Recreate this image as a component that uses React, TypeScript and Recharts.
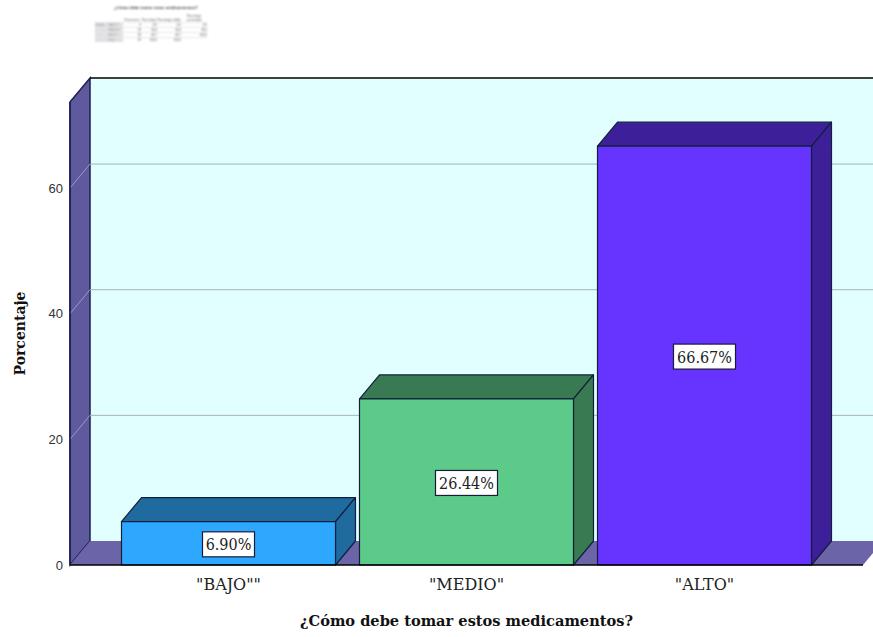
import React from 'react';
import {
  BarChart,
  Bar,
  XAxis,
  YAxis,
  CartesianGrid,
  LabelList,
  usePlotArea,
} from 'recharts';

const categories = ['"BAJO""', '"MEDIO"', '"ALTO"'];
const percentages = [6.9, 26.44, 66.67];
const yTicks = [0, 20, 40, 60];
const gridValues = [20, 40, 60];

const frontColors = ['#2EA8FF', '#5CCB8A', '#6633FF'];
const shadeColors = ['#1F6A9E', '#3A7A52', '#3D1F99'];

const tableTitle = '¿Cómo debe tomar estos medicamentos?';
const tableHeaders = ['', '', 'Frecuencia', 'Porcentaje', 'Porcentaje válido', 'Porcentaje acumulado'];
const tableRows = [
  ['Válidos', '"BAJO""', '6', '6,9', '6,9', '6,9'],
  ['', '"MEDIO"', '23', '26,4', '26,4', '33,3'],
  ['', '"ALTO"', '58', '66,7', '66,7', '100,0'],
  ['', 'Total', '87', '100,0', '100,0', ''],
];
const tableColumns = [13, 15, 18, 16, 24, 26];

const chartData = categories.map((name, i) => ({ name, value: percentages[i] }));

// depth of the extruded look, in pixels
const DX = 20;
const DY = 24;
const SERIF = '"DejaVu Serif", serif';
const SANS = '"Liberation Sans", sans-serif';

// side wall, back wall and floor behind the bars
const Walls = () => {
  const area = usePlotArea();
  if (!area) return null;
  const { x, y, width, height } = area;
  const right = x + width;
  const bottom = y + height;
  return (
    <g>
      <rect x={x + DX} y={y - DY} width={width} height={height} fill="#E1FFFF" />
      <polygon
        points={`${x},${y} ${x + DX},${y - DY} ${x + DX},${bottom - DY} ${x},${bottom}`}
        fill="#5F5A9E"
        stroke="#1B2050"
        strokeWidth={1.5}
      />
      <polygon
        points={`${x},${bottom} ${x + DX},${bottom - DY} ${right + DX},${bottom - DY} ${right},${bottom}`}
        fill="#6C64A8"
      />
      <line x1={x + DX} y1={y - DY} x2={right + DX} y2={y - DY} stroke="#000" strokeWidth={1.5} />
    </g>
  );
};

// grid lines bend around the corner from the side wall onto the back wall
const GridLine = (props: any) => {
  const { x1, y1, x2, y2 } = props;
  return (
    <g key={`grid-${y1}`}>
      <line x1={x1} y1={y1} x2={x1 + DX} y2={y2 - DY} stroke="#9C98C6" />
      <line x1={x1 + DX} y1={y1 - DY} x2={x2 + DX} y2={y2 - DY} stroke="#A9B3B3" />
    </g>
  );
};

const Box3D = (props: any) => {
  const { x, y, width, height, index } = props;
  const shade = shadeColors[index];
  const line = '#10203A';
  return (
    <g stroke={line} strokeWidth={1.2} strokeLinejoin="round">
      <polygon
        points={`${x},${y} ${x + DX},${y - DY} ${x + width + DX},${y - DY} ${x + width},${y}`}
        fill={shade}
      />
      <polygon
        points={`${x + width},${y} ${x + width + DX},${y - DY} ${x + width + DX},${y + height - DY} ${x + width},${y + height}`}
        fill={shade}
      />
      <rect x={x} y={y} width={width} height={height} fill={frontColors[index]} />
    </g>
  );
};

const ValueTag = (props: any) => {
  const { x, y, width, height, value } = props;
  const text = `${Number(value).toFixed(2)}%`;
  const boxW = text.length * 10 + 2;
  const boxH = 25;
  const cx = x + width / 2;
  const cy = y + height / 2 + 1;
  return (
    <g>
      <rect
        x={cx - boxW / 2}
        y={cy - boxH / 2}
        width={boxW}
        height={boxH}
        fill="#fff"
        stroke="#1A1A3A"
        strokeWidth={1.2}
      />
      <text
        x={cx}
        y={cy + 6}
        textAnchor="middle"
        fontFamily={'"DejaVu Serif Condensed", "DejaVu Serif", serif'}
        fontSize={16}
        fill="#222"
      >
        {text}
      </text>
    </g>
  );
};

// the small frequency table sitting above the chart
const MiniTable = () => (
  <div
    style={{
      position: 'absolute',
      left: 95,
      top: 5,
      width: 112,
      fontFamily: SANS,
      color: '#555',
      filter: 'blur(0.8px)',
    }}
  >
    <div style={{ fontSize: 4.2, fontWeight: 700, color: '#333', textAlign: 'center', height: 8, paddingLeft: 10, whiteSpace: 'nowrap' }}>
      {tableTitle}
    </div>
    <table style={{ borderCollapse: 'collapse', tableLayout: 'fixed', width: 112, fontSize: 3 }}>
      <colgroup>
        {tableColumns.map((w, i) => (
          <col key={i} style={{ width: w }} />
        ))}
      </colgroup>
      <tbody>
        <tr style={{ height: 9 }}>
          {tableHeaders.map((h, i) => (
            <td key={i} style={{ padding: 0, textAlign: 'center', verticalAlign: 'bottom', overflow: 'hidden' }}>
              {h}
            </td>
          ))}
        </tr>
        {tableRows.map((row, r) => (
          <tr key={r} style={{ height: 4.5 }}>
            {row.map((c, i) => (
              <td
                key={i}
                style={{
                  padding: 0,
                  lineHeight: '4px',
                  textAlign: i < 2 ? 'left' : 'right',
                  color: i < 2 ? '#999' : '#555',
                  background: i < 2 ? '#E0E0E4' : '#fff',
                  borderTop: '1px solid #E8E8E8',
                }}
              >
                {c}
              </td>
            ))}
          </tr>
        ))}
      </tbody>
    </table>
  </div>
);

export default function App() {
  return (
    <div
      style={{
        position: 'absolute',
        left: 0,
        top: 0,
        width: 873,
        height: 637,
        overflow: 'hidden',
        background: '#fff',
      }}
    >
      <MiniTable />
      <BarChart
        width={873}
        height={637}
        data={chartData}
        barSize={214}
        margin={{ top: 102, right: 10, bottom: 0, left: 0 }}
      >
        <Walls />
        <CartesianGrid
          vertical={false}
          horizontal={(p: any) => <GridLine {...p} />}
          horizontalValues={gridValues}
          {...({ zIndex: 1 } as any)}
        />
        <XAxis
          dataKey="name"
          height={72}
          padding={{ left: 39.5, right: 39.5 }}
          axisLine={{ stroke: '#000', strokeWidth: 1.5 }}
          tickLine={false}
          tickMargin={8}
          tick={{ fontFamily: SERIF, fontSize: 16, fill: '#222' }}
          label={{
            value: '¿Cómo debe tomar estos medicamentos?',
            position: 'insideBottom',
            offset: 11,
            style: { fontFamily: SERIF, fontSize: 14.6, fontWeight: 700, fill: '#111' },
          }}
        />
        <YAxis
          width={70}
          domain={[0, 73.7]}
          ticks={yTicks}
          axisLine={{ stroke: '#1B2050', strokeWidth: 1.5 }}
          tickLine={false}
          tickMargin={1}
          tick={{ fontFamily: SANS, fontSize: 13, fill: '#333' }}
          label={{
            value: 'Porcentaje',
            angle: -90,
            position: 'insideLeft',
            offset: 20,
            style: { fontFamily: SERIF, fontSize: 14, fontWeight: 700, fill: '#111', textAnchor: 'middle' },
          }}
        />
        <Bar dataKey="value" isAnimationActive={false} shape={<Box3D />}>
          <LabelList dataKey="value" content={<ValueTag />} />
        </Bar>
      </BarChart>
    </div>
  );
}
